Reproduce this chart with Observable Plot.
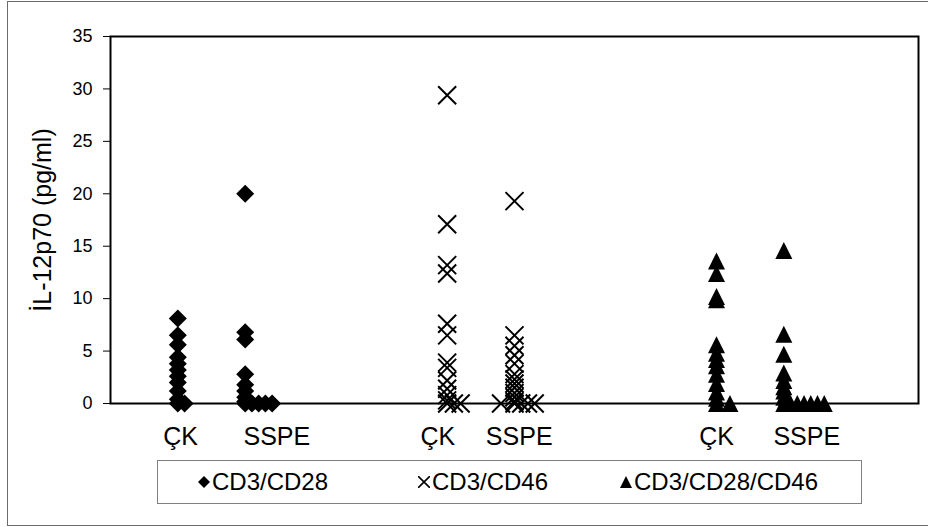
<!DOCTYPE html>
<html>
<head>
<meta charset="utf-8">
<script src="https://cdn.jsdelivr.net/npm/d3@7"></script>
<script src="https://cdn.jsdelivr.net/npm/@observablehq/plot@0.6"></script>
<style>
  body { margin: 0; background: #fff; font-family: "Liberation Sans", Arial, sans-serif; }
  #chart { position: relative; width: 928px; height: 527px; overflow: hidden; background: #fff; }
  #border { position: absolute; left: 7px; top: 1px; width: 940px; height: 525px; border: 1px solid #6b6b6b; box-sizing: border-box; }
  #plot { position: absolute; left: 0; top: 0; }
  #legend { position: absolute; left: 157px; top: 460px; width: 705px; height: 44px; border: 1px solid #808080; box-sizing: border-box; font-size: 24px; color: #000; }
  .item { position: absolute; top: 0; height: 42px; display: flex; align-items: center; }
  .item svg { display: block; }
</style>
</head>
<body>
<div id="chart">
  <div id="border"></div>
  <div id="plot"></div>
  <div id="legend"></div>
</div>
<script>
// Column positions on the x scale (ÇK / SSPE for each stimulation)
const catX = [1.04, 2.47, 4.86, 6.07, 9.0, 10.34];
const catLabels = ["ÇK", "SSPE", "ÇK", "SSPE", "ÇK", "SSPE"];
const yTicks = [0, 5, 10, 15, 20, 25, 30, 35];

// CD3/CD28 (pg/ml); zero readings are spread sideways at the listed x
const cd28CK = [8.1, 6.5, 5.6, 4.4, 3.8, 3.2, 2.6, 2.0, 1.2, 0.4];
const cd28CKZeroX = [1.0, 1.1];
const cd28SSPE = [20.0, 6.8, 6.1, 2.8, 1.8, 1.2, 0.6, 0.2];
const cd28SSPEZeroX = [2.0, 2.1, 2.2, 2.3, 2.4];

// CD3/CD46
const cd46CK = [29.4, 17.1, 13.2, 12.4, 7.6, 6.5, 3.9, 3.4, 2.2, 1.4, 0.8, 0.3];
const cd46CKZeroX = [5.0, 5.1, 5.2];
const cd46SSPE = [19.3, 6.5, 5.5, 4.6, 3.8, 2.8, 2.3, 1.9, 1.5, 1.0, 0.6, 0.2];
const cd46SSPEZeroX = [5.8, 6.0, 6.1, 6.2, 6.3];

// CD3/CD28/CD46
const cd2846CK = [13.6, 12.4, 10.2, 9.9, 5.6, 4.8, 4.2, 3.6, 2.8, 1.9, 1.1, 0.5];
const cd2846CKZeroX = [9.0, 9.2];
const cd2846SSPE = [14.6, 6.6, 4.7, 2.9, 2.2, 1.6, 1.2, 0.6];
const cd2846SSPEZeroX = [10.0, 10.1, 10.2, 10.3, 10.4, 10.5, 10.6];

const seriesNames = ["CD3/CD28", "CD3/CD46", "CD3/CD28/CD46"];
const yTitle = "İL-12p70 (pg/ml)";

function rows(values, col, zeroX) {
  return values.map(v => ({x: col, y: v})).concat(zeroX.map(x => ({x, y: 0})));
}

const cd28Rows = rows(cd28CK, 1, cd28CKZeroX).concat(rows(cd28SSPE, 2, cd28SSPEZeroX));
const cd46Rows = rows(cd46CK, 5, cd46CKZeroX).concat(rows(cd46SSPE, 6, cd46SSPEZeroX));
const cd2846Rows = rows(cd2846CK, 9, cd2846CKZeroX).concat(rows(cd2846SSPE, 10, cd2846SSPEZeroX));

// Marker shapes (r derived from the symbol area Plot passes in)
const rad = size => Math.sqrt(size / Math.PI);
const diamond = {draw(c, size) { const r = rad(size); c.moveTo(0, -r); c.lineTo(r, 0); c.lineTo(0, r); c.lineTo(-r, 0); c.closePath(); }};
const cross = {draw(c, size) { const r = rad(size); c.moveTo(-r, -r); c.lineTo(r, r); c.moveTo(r, -r); c.lineTo(-r, r); }};
const triangle = {draw(c, size) { const r = rad(size); c.moveTo(0, -r); c.lineTo(r, r); c.lineTo(-r, r); c.closePath(); }};

const labelAt = new Map(catX.map((x, i) => [x, catLabels[i]]));

const chart = Plot.plot({
  width: 928,
  height: 455,
  marginLeft: 110,
  marginRight: 10,
  marginTop: 36,
  marginBottom: 52,
  style: {fontFamily: '"Liberation Sans", Arial, sans-serif', color: "#000", background: "transparent", overflow: "visible"},
  x: {domain: [0, 12], axis: null},
  y: {domain: [0, 35], axis: null},
  marks: [
    Plot.axisY({ticks: yTicks, tickSize: 7, tickPadding: 11, fontSize: 18, label: null, strokeWidth: 1}),
    Plot.axisX({ticks: catX, tickFormat: d => labelAt.get(d), tickSize: 0, tickPadding: 24, fontSize: 25, label: null}),
    Plot.frame({stroke: "#000", strokeWidth: 2}),
    Plot.text([yTitle], {frameAnchor: "left", textAnchor: "middle", rotate: -90, dx: -68, fontSize: 25, fill: "#000"}),
    Plot.dot(cd28Rows, {x: "x", y: "y", symbol: diamond, r: 9, fill: "#000", stroke: "none"}),
    Plot.dot(cd46Rows, {x: "x", y: "y", symbol: cross, r: 9, fill: "none", stroke: "#000", strokeWidth: 2}),
    Plot.dot(cd2846Rows, {x: "x", y: "y", symbol: triangle, r: 8.5, fill: "#000", stroke: "none"})
  ]
});
document.getElementById("plot").appendChild(chart);

// Legend: one marker + name per series
const legendPaths = [
  '<path d="M6,0L12,6L6,12L0,6Z" fill="#000"/>',
  '<path d="M0,0L12,12M12,0L0,12" stroke="#000" stroke-width="1.6" fill="none"/>',
  '<path d="M6,0L12,12L0,12Z" fill="#000"/>'
];
const legendLeft = [40, 260, 462];
const legend = document.getElementById("legend");
seriesNames.forEach((name, i) => {
  const item = document.createElement("div");
  item.className = "item";
  item.style.left = legendLeft[i] + "px";
  item.innerHTML = '<svg width="12" height="12" viewBox="0 0 12 12" style="margin-right:2px">' + legendPaths[i] + '</svg><span>' + name + '</span>';
  legend.appendChild(item);
});
</script>
</body>
</html>
